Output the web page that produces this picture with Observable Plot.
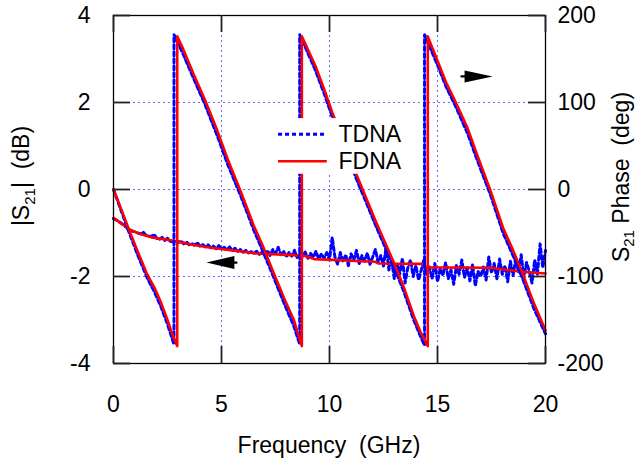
<!DOCTYPE html>
<html><head><meta charset="utf-8">
<script src="https://cdn.jsdelivr.net/npm/d3@7"></script>
<script src="https://cdn.jsdelivr.net/npm/@observablehq/plot@0.6"></script>
<style>body{margin:0;background:#fff} svg{display:block}</style>
</head><body><div id="chart"></div>
<script>
// ---- axes / ticks ----
const freqTicks = [0, 5, 10, 15, 20];
const magTicks = [-4, -2, 0, 2, 4];
const phaseTicks = [-200, -100, 0, 100, 200];
const gridFreq = [5, 10, 15];
const gridMag = [-2, 0, 2];
const degPerDb = 50; // right axis (deg) vs left axis (dB)

// ---- |S21| (dB) ----
const fdnaMag = [[0,-0.65],[0.35,-0.78],[0.75,-0.92],[1.2,-1.02],[1.75,-1.1],[2.8,-1.18],[3.5,-1.26],[4.5,-1.34],[5.7,-1.41],[6.6,-1.47],[8.8,-1.52],[9.3,-1.6],[12.1,-1.66],[12.25,-1.7],[14.35,-1.71],[14.4,-1.79],[17.4,-1.8],[18.9,-1.89],[20,-1.93]];
const tdnaMagStep = 0.125; // GHz, 8 samples per row (row k = k GHz)
const tdnaMagRows = [
 [-0.67,-0.70,-0.74,-0.78,-0.83,-0.88,-0.93,-0.96],
 [-0.97,-1.00,-1.02,-0.98,-1.05,-1.07,-1.08,-1.03],
 [-1.12,-1.15,-1.10,-1.17,-1.12,-1.19,-1.20,-1.18],
 [-1.22,-1.18,-1.25,-1.20,-1.27,-1.24,-1.28,-1.22],
 [-1.30,-1.26,-1.32,-1.27,-1.34,-1.30,-1.36,-1.29],
 [-1.37,-1.33,-1.39,-1.32,-1.40,-1.35,-1.42,-1.38],
 [-1.44,-1.40,-1.46,-1.43,-1.47,-1.42,-1.49,-1.44],
 [-1.50,-1.40,-1.52,-1.38,-1.47,-1.33,-1.50,-1.42],
 [-1.55,-1.45,-1.53,-1.40,-1.56,-1.46,-1.54,-1.44],
 [-1.58,-1.47,-1.56,-1.42,-1.60,-1.48,-1.58,-1.45],
 [-1.62,-1.10,-1.55,-1.72,-1.45,-1.66,-1.50,-1.75],
 [-1.48,-1.62,-1.40,-1.70,-1.52,-1.65,-1.46,-1.72],
 [-1.55,-1.38,-1.68,-1.52,-1.76,-1.30,-1.85,-1.62],
 [-2.05,-1.70,-1.95,-1.58,-2.15,-1.80,-1.62,-2.00],
 [-1.75,-2.08,-1.85,-1.60,-1.95,-1.78,-2.05,-1.70],
 [-2.12,-1.82,-1.98,-1.68,-2.05,-1.85,-2.18,-1.75],
 [-1.95,-1.62,-2.02,-1.80,-2.10,-1.72,-2.22,-1.88],
 [-2.00,-1.78,-2.08,-1.55,-1.92,-1.70,-2.05,-1.60],
 [-1.95,-1.75,-2.12,-1.65,-1.98,-1.58,-1.90,-1.50],
 [-2.02,-1.68,-1.88,-2.15,-1.62,-1.95,-1.25,-1.80],
 [-1.40]
];

// ---- S21 phase (deg) ----
const fdnaPhase = [[0,0],[0.35,-22],[0.7,-45],[1.1,-70],[1.55,-97],[1.9,-113],[2.2,-130],[2.5,-150],[2.75,-168],[2.95,-180],
 [2.95,176],[3.2,163],[3.7,133],[4.25,102],[4.8,68],[5.3,34],[5.9,-3],[6.5,-42],[6.9,-64],[7.4,-95],[7.9,-125],[8.35,-150],[8.72,-180],
 [8.72,176],[9.35,142],[9.8,112],[10.15,87],[10.7,55],[11.2,20],[11.75,-13],[12.15,-37],[12.5,-57],[13.0,-85],[13.45,-113],[13.9,-145],[14.2,-163],[14.55,-180],
 [14.55,176],[15.0,148],[15.4,123],[15.85,100],[16.4,70],[16.85,39],[17.45,-1],[18.05,-45],[18.5,-70],[18.95,-97],[19.45,-130],[20,-162]];
const tdnaPhase = [[0,0],[0.35,-24],[0.7,-48],[1.1,-74],[1.55,-101],[1.9,-118],[2.2,-135],[2.5,-155],[2.8,-178],
 [2.8,178],[3.2,157],[3.7,128],[4.25,97],[4.8,62],[5.3,28],[5.9,-8],[6.5,-47],[6.9,-70],[7.4,-100],[7.9,-131],[8.35,-157],[8.62,-178],
 [8.62,178],[9.35,137],[9.8,107],[10.15,82],[10.7,50],[11.2,15],[11.75,-18],[12.15,-42],[12.5,-62],[13.0,-90],[13.45,-118],[13.9,-150],[14.2,-168],[14.4,-179],
 [14.4,178],[15.0,143],[15.4,118],[15.85,95],[16.4,64],[16.85,33],[17.45,-6],[18.05,-51],[18.5,-76],[18.95,-103],[19.45,-136],[20,-166]];

// ---- annotations ----
const magArrow = [{f: 4.3, db: -1.68}];      // points to left axis
const phaseArrow = [{f: 17.55, deg: 130}];   // points to right axis
const legendNames = ["TDNA", "FDNA"];
const legendBox = {f1: 7.35, f2: 13.75, y1: 0.35, y2: 1.63, s1: 7.64, s2: 9.9, t: 10.42, rows: [1.27, 0.65]};

const W = 637, H = 460, mL = 113, mR = 92, mT = 15, mB = 97;
const iw = W - mL - mR, ih = H - mT - mB;
const tdnaMag = tdnaMagRows.flatMap((row, k) => row.map((v, j) => [k + j * tdnaMagStep, v]));

const blue = "#0000ff", red = "#ff0000";
const gridStyle = {stroke: "#4d4dff", strokeWidth: 1, strokeDasharray: "2,3", strokeOpacity: 0.85};
const blueStyle = {stroke: blue, strokeWidth: 3, strokeDasharray: "4,3"};
const redStyle = {stroke: red, strokeWidth: 2.6};

const leftArrowSym = {draw(c) { c.moveTo(0,0); c.lineTo(28,-6.5); c.lineTo(28,6.5); c.closePath();
  c.moveTo(27,-1.2); c.lineTo(31,-1.2); c.lineTo(31,1.2); c.lineTo(27,1.2); c.closePath(); }};
const rightArrowSym = {draw(c) { c.moveTo(0,0); c.lineTo(-28,-6); c.lineTo(-28,6); c.closePath();
  c.moveTo(-27,-1.2); c.lineTo(-32,-1.2); c.lineTo(-32,1.2); c.lineTo(-27,1.2); c.closePath(); }};

const chart = Plot.plot({
  width: W, height: H, marginLeft: mL, marginRight: mR, marginTop: mT, marginBottom: mB,
  style: {fontFamily: "'Liberation Sans', Arial, sans-serif", fontSize: "23px", color: "#000", background: "#fff", overflow: "visible"},
  x: {domain: [0, 20]},
  y: {domain: [-4, 4]},
  marks: [
    Plot.ruleX(gridFreq, {x: d => d, ...gridStyle}),
    Plot.ruleY(gridMag, {y: d => d, ...gridStyle}),
    Plot.line(tdnaMag, {x: d => d[0], y: d => d[1], ...blueStyle}),
    Plot.line(fdnaMag, {x: d => d[0], y: d => d[1], ...redStyle}),
    Plot.line(tdnaPhase, {x: d => d[0], y: d => d[1] / degPerDb, ...blueStyle}),
    Plot.line(fdnaPhase, {x: d => d[0], y: d => d[1] / degPerDb, ...redStyle}),
    Plot.dot(magArrow, {x: "f", y: "db", symbol: leftArrowSym, fill: "#000", stroke: "none"}),
    Plot.dot(phaseArrow, {x: "f", y: d => d.deg / degPerDb, symbol: rightArrowSym, fill: "#000", stroke: "none"}),
    // legend
    Plot.rect([legendBox], {x1: "f1", x2: "f2", y1: "y1", y2: "y2", fill: "#fff"}),
    Plot.ruleY([legendBox.rows[0]], {y: d => d, x1: legendBox.s1, x2: legendBox.s2, ...blueStyle}),
    Plot.ruleY([legendBox.rows[1]], {y: d => d, x1: legendBox.s1, x2: legendBox.s2, ...redStyle}),
    Plot.text(legendNames, {x: legendBox.t, y: (d, i) => legendBox.rows[i], text: d => d, textAnchor: "start", fontSize: 23, fill: "#000"}),
    // frame and inward ticks
    Plot.frame({stroke: "#000", strokeWidth: 1.3}),
    Plot.tickX(freqTicks, {x: d => d, insetBottom: ih - 17, stroke: "#222", strokeWidth: 1.8}),
    Plot.tickX(freqTicks, {x: d => d, insetTop: ih - 17, stroke: "#222", strokeWidth: 1.8}),
    Plot.tickY(magTicks, {y: d => d, insetRight: iw - 17, stroke: "#222", strokeWidth: 1.8}),
    Plot.tickY(magTicks, {y: d => d, insetLeft: iw - 17, stroke: "#222", strokeWidth: 1.8}),
    Plot.axisX({ticks: freqTicks, tickSize: 0, tickPadding: 32, tickFormat: d => String(d), label: null}),
    Plot.axisY({anchor: "left", ticks: magTicks, tickSize: 0, tickPadding: 23, tickFormat: d => String(d), label: null}),
    Plot.axisY({anchor: "right", ticks: magTicks, tickSize: 0, tickPadding: 12, tickFormat: d => String(phaseTicks[magTicks.indexOf(d)]), label: null})
  ]
});
document.getElementById("chart").append(chart);

// axis titles with subscripts
const svg = d3.select(chart);
const ff = "'Liberation Sans', Arial, sans-serif";
svg.append("text").attr("x", mL + iw / 2).attr("y", 453).attr("text-anchor", "middle")
  .attr("font-family", ff).attr("font-size", 23).style("white-space", "pre").text("Frequency  (GHz)");
const lt = svg.append("text").attr("transform", "translate(29,176) rotate(-90)").attr("text-anchor", "middle")
  .attr("font-family", ff).attr("font-size", 23).style("white-space", "pre");
lt.append("tspan").text("|S");
lt.append("tspan").attr("font-size", 15).attr("dy", 6).text("21");
lt.append("tspan").attr("dy", -6).text("|  (dB)");
const rt = svg.append("text").attr("transform", "translate(629,177) rotate(-90)").attr("text-anchor", "middle")
  .attr("font-family", ff).attr("font-size", 23).style("white-space", "pre");
rt.append("tspan").text("S");
rt.append("tspan").attr("font-size", 15).attr("dy", 5).text("21");
rt.append("tspan").attr("dy", -5).text(" Phase  (deg)");
</script>
</body></html>
